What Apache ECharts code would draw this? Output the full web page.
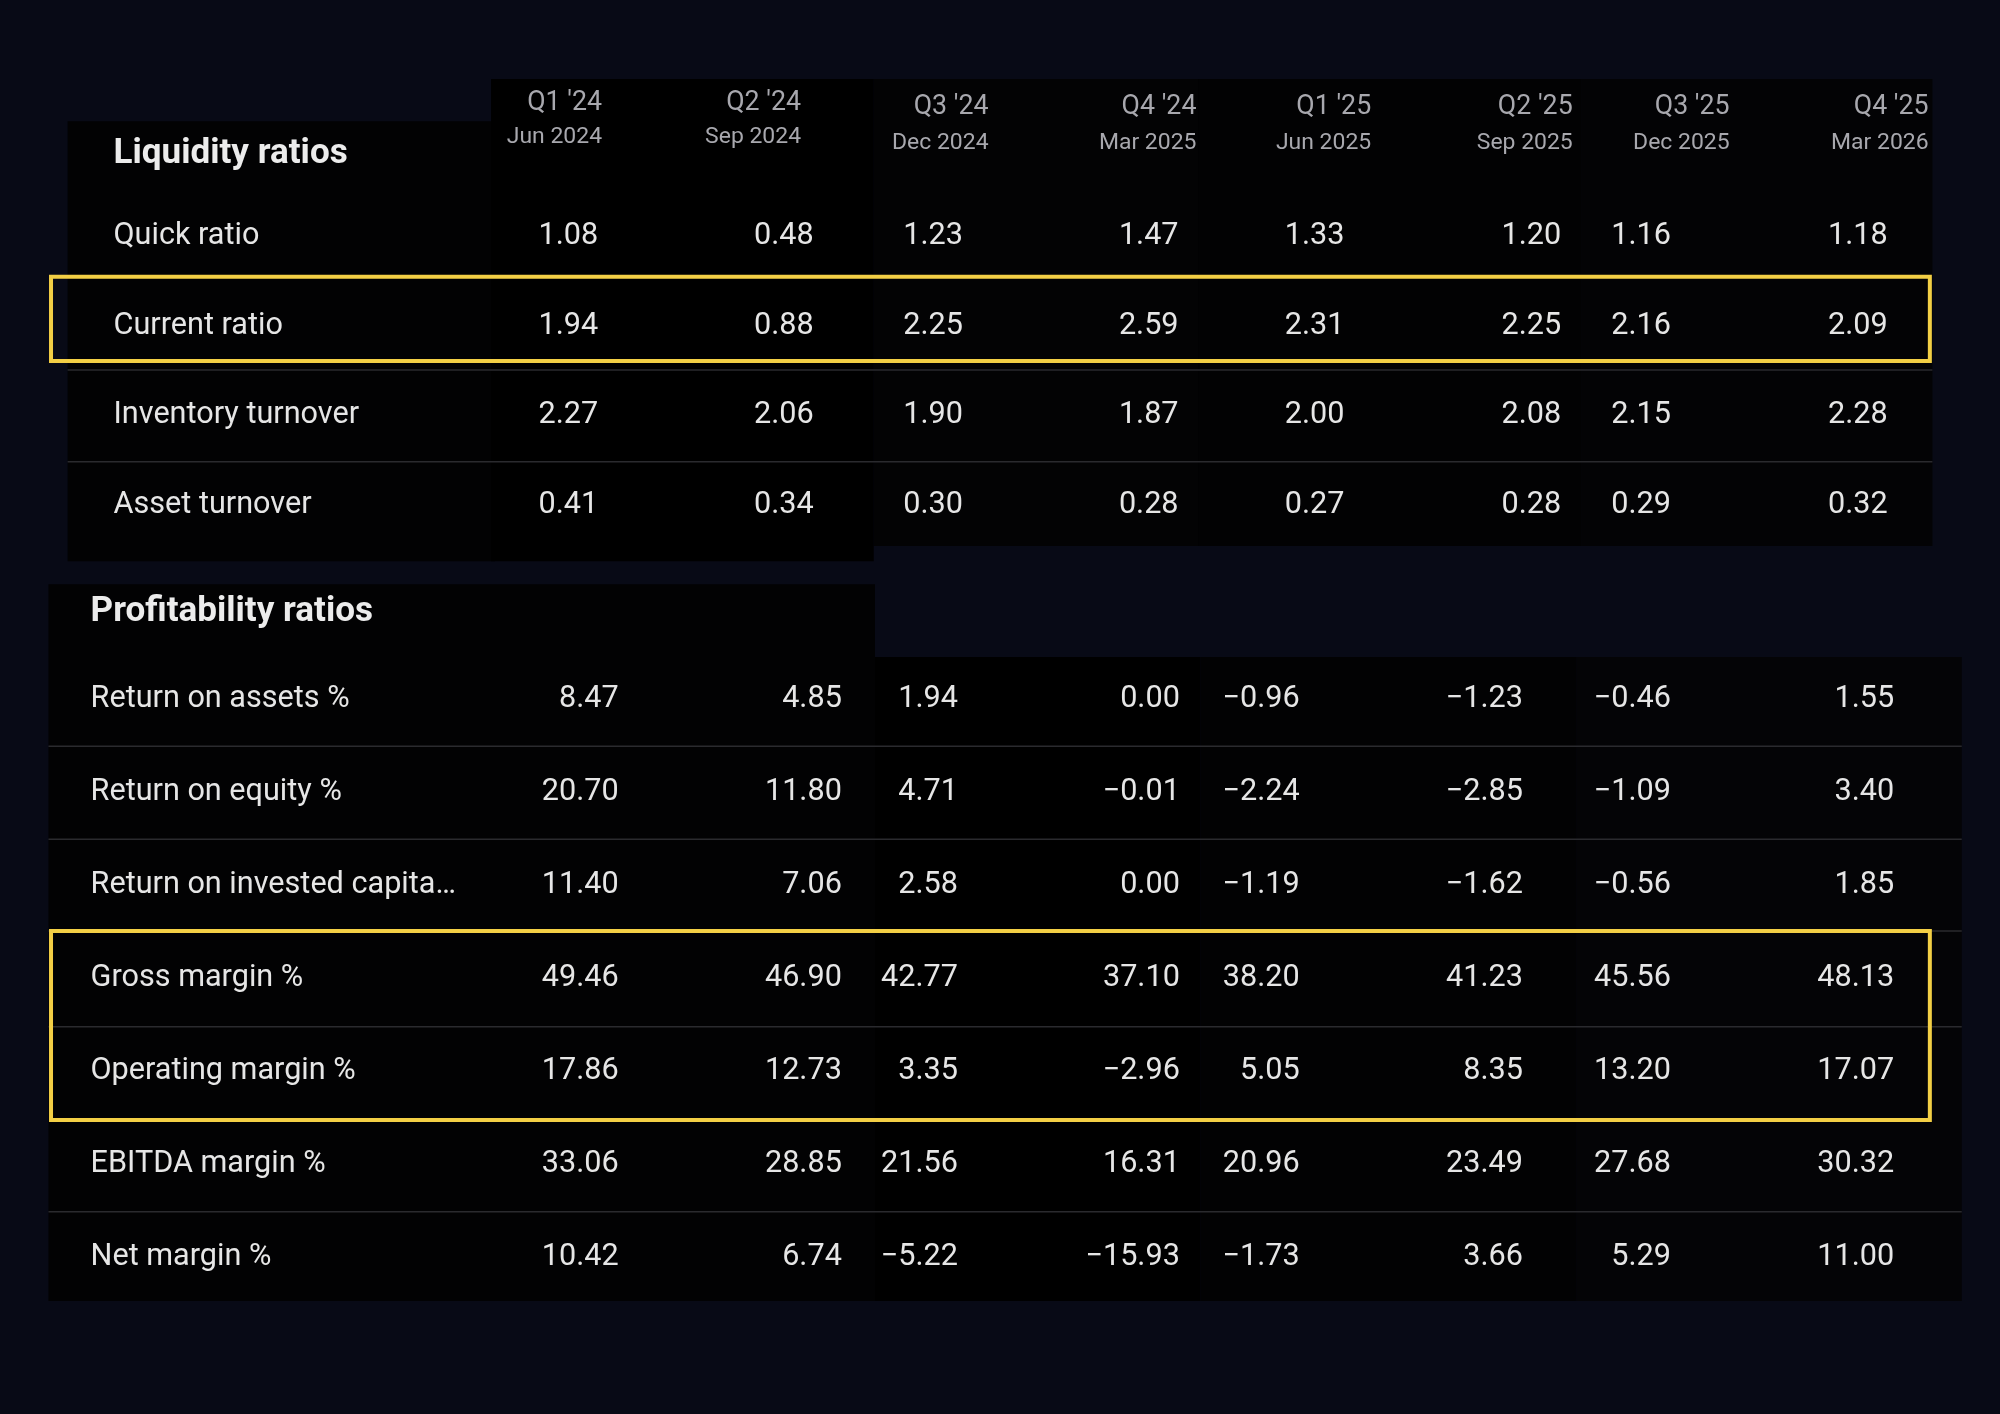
<!DOCTYPE html>
<html><head><meta charset="utf-8">
<script src="https://cdn.jsdelivr.net/npm/echarts@6/dist/echarts.min.js"></script>
<style>html,body{margin:0;background:#080a16}#c{width:2000px;height:1414px}</style>
</head><body><div id="c"></div>
<script>
const quarters = ["Q1 '24","Q2 '24","Q3 '24","Q4 '24","Q1 '25","Q2 '25","Q3 '25","Q4 '25"];
const periods = ["Jun 2024","Sep 2024","Dec 2024","Mar 2025","Jun 2025","Sep 2025","Dec 2025","Mar 2026"];
const liquidityRows = ["Quick ratio","Current ratio","Inventory turnover","Asset turnover"];
const liquidityValues = [
  ["1.08","0.48","1.23","1.47","1.33","1.20","1.16","1.18"],
  ["1.94","0.88","2.25","2.59","2.31","2.25","2.16","2.09"],
  ["2.27","2.06","1.90","1.87","2.00","2.08","2.15","2.28"],
  ["0.41","0.34","0.30","0.28","0.27","0.28","0.29","0.32"]
];
const profitRows = ["Return on assets %","Return on equity %","Return on invested capita…","Gross margin %","Operating margin %","EBITDA margin %","Net margin %"];
const profitValues = [
  ["8.47","4.85","1.94","0.00","−0.96","−1.23","−0.46","1.55"],
  ["20.70","11.80","4.71","−0.01","−2.24","−2.85","−1.09","3.40"],
  ["11.40","7.06","2.58","0.00","−1.19","−1.62","−0.56","1.85"],
  ["49.46","46.90","42.77","37.10","38.20","41.23","45.56","48.13"],
  ["17.86","12.73","3.35","−2.96","5.05","8.35","13.20","17.07"],
  ["33.06","28.85","21.56","16.31","20.96","23.49","27.68","30.32"],
  ["10.42","6.74","−5.22","−15.93","−1.73","3.66","5.29","11.00"]
];

const s = 2000/1568;
const F = "Roboto, 'Noto Sans', sans-serif";
const g = [];
function rect(x,y,w,h,fill){g.push({type:'rect',shape:{x:x*s,y:y*s,width:w*s,height:h*s},style:{fill},silent:true});}
function line(x1,x2,y,c){g.push({type:'line',shape:{x1:x1*s,y1:y*s,x2:x2*s,y2:y*s},style:{stroke:c,lineWidth:1.5}});}
function box(x,y,w,h){g.push({type:'rect',shape:{x:x*s,y:y*s,width:w*s,height:h*s},style:{fill:'none',stroke:'#f3cf45',lineWidth:4}});}
function text(t,x,y,size,color,align,weight){g.push({type:'text',x:x*s,y:(y+2)*s,style:{text:t,fontFamily:F,fontSize:size*s,fill:color,align:align||'left',verticalAlign:'middle',fontWeight:weight||'normal'}});}

rect(53,95,335,345,'#020203'); rect(385,62,300,378,'#000000'); rect(685,62,255,366,'#030304');
rect(940,62,300,366,'#020203'); rect(1240,62,275,366,'#030305');
rect(38,458,648,562,'#020203'); rect(686,515,255,505,'#000000'); rect(941,515,295,505,'#020203'); rect(1236,515,302,505,'#040406');

const hdrRight=[472,628,775,938,1075,1233,1356,1512];
const hdrY=[[79,106],[79,106],[82,110],[82,110],[82,110],[82,110],[82,110],[82,110]];
quarters.forEach((q,i)=>{text(q,hdrRight[i],hdrY[i][0],21,'#a8a8ae','right');text(periods[i],hdrRight[i],hdrY[i][1],18,'#a8a8ae','right');});
text('Liquidity ratios',89,119,27.5,'#ececec','left','bold');
const topRight=[469,638,755,924,1054,1224,1310,1480];
const topY=[183,254,324,394];
line(53,1515,290,'#2a2a2e'); line(53,1515,362,'#2a2a2e');
liquidityRows.forEach((r,i)=>{text(r,89,topY[i],24,'#e6e6e6');liquidityValues[i].forEach((v,j)=>text(v,topRight[j],topY[i],24,'#e6e6e6','right'));});
box(40,217,1473,66);

text('Profitability ratios',71,478,27.5,'#ececec','left','bold');
const botRight=[485,660,751,925,1019,1194,1310,1485];
const botY=[546,619,692,765,838,911,984];
[585,658,730,805,950].forEach(y=>line(38,1538,y,'#2a2a2e'));
profitRows.forEach((r,i)=>{text(r,71,botY[i],24,'#e6e6e6');profitValues[i].forEach((v,j)=>text(v,botRight[j],botY[i],24,'#e6e6e6','right'));});
box(40,730,1473,148);

const chart = echarts.init(document.getElementById('c'));
chart.setOption({backgroundColor:'#080a16',graphic:g});
</script></body></html>
